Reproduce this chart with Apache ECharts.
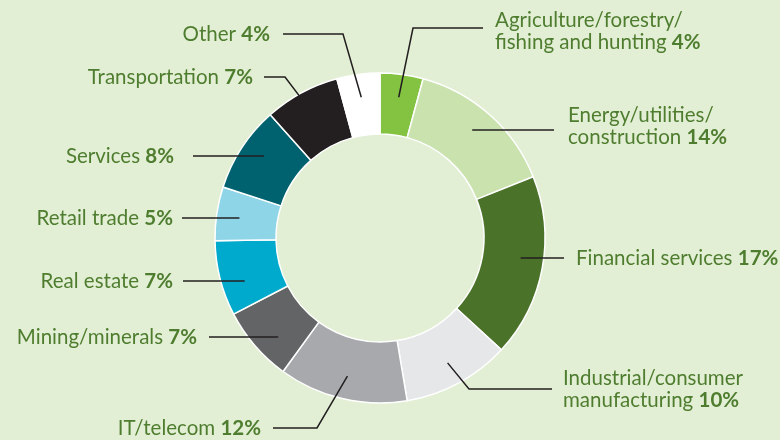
<!DOCTYPE html>
<html>
<head>
<meta charset="utf-8">
<style>
  html, body { margin: 0; padding: 0; background: #e2efd4; }
  #main { width: 780px; height: 440px; }
</style>
<script src="https://cdn.jsdelivr.net/npm/echarts@6/dist/echarts.min.js"></script>
</head>
<body>
<div id="main"></div>
<script>
var categories = [
    'Agriculture/forestry/\nfishing and hunting',
    'Energy/utilities/\nconstruction',
    'Financial services',
    'Industrial/consumer\nmanufacturing',
    'IT/telecom',
    'Mining/minerals',
    'Real estate',
    'Retail trade',
    'Services',
    'Transportation',
    'Other'
];
var shares = [4, 14, 17, 10, 12, 7, 7, 5, 8, 7, 4];
var sliceColors = ['#83c341', '#c9e2ae', '#4a7229', '#e6e7e8', '#a7a9ac', '#636466',
                   '#00aacd', '#8fd5e8', '#00626f', '#231f20', '#ffffff'];

// leader line placement per slice:
// [lineY, elbowX (null = straight line), lineEndX, gap to text, text dy]
var leaders = [
    [28, 413, 483, 12, 3],
    [130, null, 554, 14, -4],
    [258, null, 564, 12, 0],
    [389, 469, 552, 11, 0],
    [428, 317, 273, 12, 0],
    [337, null, 209, 12, 0],
    [281, null, 183, 10, 0],
    [218, null, 182, 9, 0],
    [156, null, 193, 19, 0],
    [77, 285, 264, 11, 0],
    [34, 343, 283, 13, 0]
];

var cx = 380, cy = 238, rIn = 104, rOut = 165, rLine = 142;
var total = shares.reduce(function (a, b) { return a + b; }, 0);
var textColor = '#4f7d2f';

var dom = document.getElementById('main');
var myChart = echarts.init(dom);

var option = {
    backgroundColor: '#e2efd4',
    animation: false,
    series: [
        {
            // the ring itself
            type: 'pie',
            center: [cx, cy],
            radius: [rIn, rOut],
            startAngle: 90,
            clockwise: true,
            silent: true,
            itemStyle: { borderColor: '#ffffff', borderWidth: 1.5 },
            label: { show: false },
            labelLine: { show: false },
            data: categories.map(function (name, i) {
                return { name: name, value: shares[i], itemStyle: { color: sliceColors[i] } };
            })
        },
        {
            // same slices, invisible, only to carry labels and leader lines on top
            type: 'pie',
            z: 5,
            center: [cx, cy],
            radius: [rIn, rOut],
            startAngle: 90,
            clockwise: true,
            silent: true,
            avoidLabelOverlap: false,
            itemStyle: { color: 'rgba(0,0,0,0)', borderWidth: 0 },
            label: {
                show: true,
                position: 'outside',
                color: textColor,
                fontFamily: 'Lato',
                fontSize: 20.5,
                lineHeight: 22,
                formatter: function (p) {
                    return p.name + ' {b|' + p.value + '%}';
                },
                rich: {
                    b: { color: textColor, fontFamily: 'Lato', fontWeight: 'bold', fontSize: 20.5, lineHeight: 22 }
                }
            },
            labelLine: {
                show: true,
                showAbove: true,
                minTurnAngle: 0,
                lineStyle: { color: '#231f20', width: 1.5 }
            },
            labelLayout: function (params) {
                var i = params.dataIndex;
                var cum = 0;
                for (var k = 0; k < i; k++) cum += shares[k];
                var theta = (cum + shares[i] / 2) / total * Math.PI * 2;
                var l = leaders[i];
                var side = l[2] > cx ? 1 : -1;
                var start, elbow;
                if (l[1] === null) {
                    var dy = l[0] - cy;
                    start = [cx + side * Math.sqrt(rLine * rLine - dy * dy), l[0]];
                    elbow = start.slice();
                } else {
                    start = [cx + rLine * Math.sin(theta), cy - rLine * Math.cos(theta)];
                    elbow = [l[1], l[0]];
                }
                return {
                    x: l[2] + side * l[3],
                    y: l[0] + l[4],
                    align: side > 0 ? 'left' : 'right',
                    verticalAlign: 'middle',
                    labelLinePoints: [start, elbow, [l[2], l[0]]]
                };
            },
            data: categories.map(function (name, i) {
                return { name: name, value: shares[i] };
            })
        }
    ]
};

myChart.setOption(option, true);
</script>
</body>
</html>
